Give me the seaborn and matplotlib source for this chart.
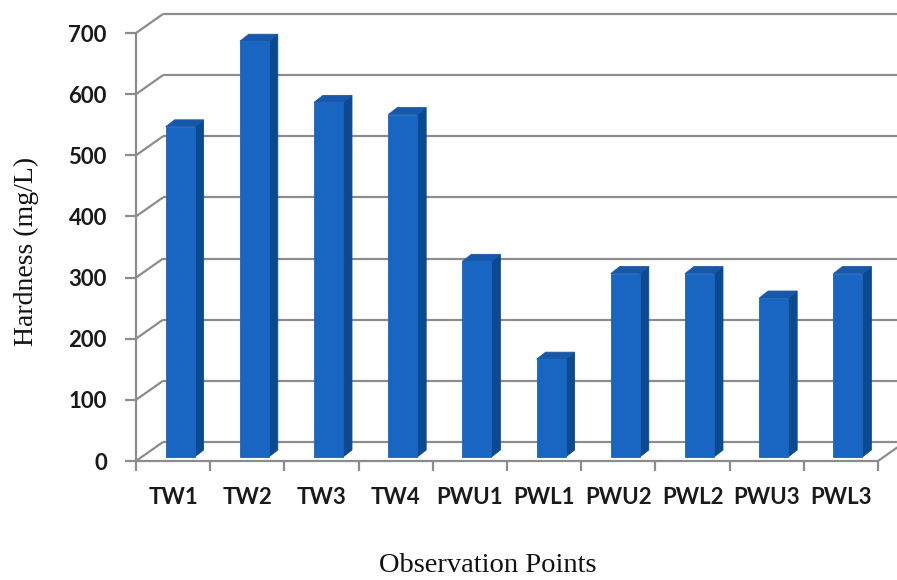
import numpy as np
import pandas as pd
import seaborn as sns
import matplotlib.pyplot as plt
from matplotlib.patches import Polygon
import matplotlib.transforms as mtransforms

# Total hardness at each observation point
stations = ["TW1", "TW2", "TW3", "TW4", "PWU1", "PWL1", "PWU2", "PWL2", "PWU3", "PWL3"]
hardness = [540, 680, 580, 560, 320, 160, 300, 300, 260, 300]
y_ticks = [0, 100, 200, 300, 400, 500, 600, 700]

FRONT = "#1865C2"
SIDE = "#0B4A90"
TOP = "#1858AA"
GRID = "#8C8C8C"

sns.set_theme(style="white")
plt.rcParams["font.family"] = ["Lato", "DejaVu Sans"]

W, H, DPI = 897, 580, 100
fig = plt.figure(figsize=(W / DPI, H / DPI), dpi=DPI)
fig.patch.set_facecolor("white")
ax = fig.add_axes([136 / W, 119 / H, 742 / W, 428 / H])

df = pd.DataFrame({"Station": stations, "Hardness": hardness})
sns.barplot(data=df, x="Station", y="Hardness", color=FRONT, width=0.39,
            saturation=1, edgecolor=FRONT, linewidth=0.6, ax=ax, zorder=4)

ax.set_xlim(-0.5, len(stations) - 0.5)
ax.set_ylim(0, 700)
for s in ax.spines.values():
    s.set_visible(False)

# data units per pixel
p0 = ax.transData.transform((0, 0))
p1 = ax.transData.transform((1, 100))
ux = 1.0 / (p1[0] - p0[0])
uy = 100.0 / (p1[1] - p0[1])

# oblique depth of the chart box (pixels)
WALL_DX, WALL_DY = 27, 19


def back(x, y):
    return x + WALL_DX * ux, y + WALL_DY * uy


xl, xr = -0.5, len(stations) - 0.5
line_kw = dict(color=GRID, lw=1.6, clip_on=False, solid_capstyle="butt")

# back wall gridlines and left-wall diagonals
for t in y_ticks:
    bx0, by = back(xl, t)
    bx1, _ = back(xr, t)
    ax.plot([bx0, bx1], [by, by], zorder=1, **line_kw)
    ax.plot([xl, bx0], [t, by], zorder=1, **line_kw)

# floor edges
fx, fy = back(xr, 0)
ax.plot([xr, fx], [0, fy], zorder=1, **line_kw)
ax.plot([xl, xr], [0, 0], zorder=6, **line_kw)
ax.plot([xl, xl], [0, 700], zorder=6, **line_kw)

# 3-D faces of the columns
BAR_DX, BAR_DY = 7, 4      # column front face sits slightly inside the box
DEP_DX, DEP_DY = 9, 7      # column depth
shift = mtransforms.ScaledTranslation(BAR_DX / DPI, BAR_DY / DPI, fig.dpi_scale_trans)
tr = ax.transData + shift
dxd, dyd = DEP_DX * ux, DEP_DY * uy
for p in list(ax.patches):
    p.set_transform(tr)
    p.set_clip_on(False)
    x0, w, h = p.get_x(), p.get_width(), p.get_height()
    side = Polygon([(x0 + w, 0), (x0 + w, h), (x0 + w + dxd, h + dyd), (x0 + w + dxd, dyd)],
                   closed=True, facecolor=SIDE, edgecolor=SIDE, lw=0.6, transform=tr,
                   zorder=3.5, clip_on=False)
    top = Polygon([(x0, h), (x0 + w, h), (x0 + w + dxd, h + dyd), (x0 + dxd, h + dyd)],
                  closed=True, facecolor=TOP, edgecolor=TOP, lw=0.6, transform=tr,
                  zorder=3.6, clip_on=False)
    ax.add_patch(side)
    ax.add_patch(top)

# ticks and labels
ax.set_yticks(y_ticks)
ax.set_yticklabels([str(t) for t in y_ticks], fontweight="bold", fontsize=16, color="#1a1a1a")
ax.tick_params(axis="y", left=True, length=8, width=1.6, color=GRID, pad=13)
ax.set_xticks(range(len(stations)))
ax.set_xticklabels(stations, fontsize=16, fontweight="bold", color="#1a1a1a")
ax.set_xticks(np.arange(-0.5, len(stations)), minor=True)
ax.tick_params(axis="x", which="major", bottom=True, length=0, pad=19)
ax.tick_params(axis="x", which="minor", bottom=True, length=7, width=1.6, color=GRID)

ax.set_xlabel("Observation Points", fontsize=20.5, family="Liberation Serif", color="#111")
ax.set_ylabel("Hardness (mg/L)", fontsize=20, family="Liberation Serif", color="#111")
ax.xaxis.label.set_verticalalignment("center")
ax.yaxis.label.set_verticalalignment("center")
ax.xaxis.set_label_coords((488 - 136) / 742, (461 - 565) / 428)
ax.yaxis.set_label_coords((26 - 136) / 742, (461 - 251) / 428)

fig.savefig("out.png", dpi=DPI, facecolor="white")
